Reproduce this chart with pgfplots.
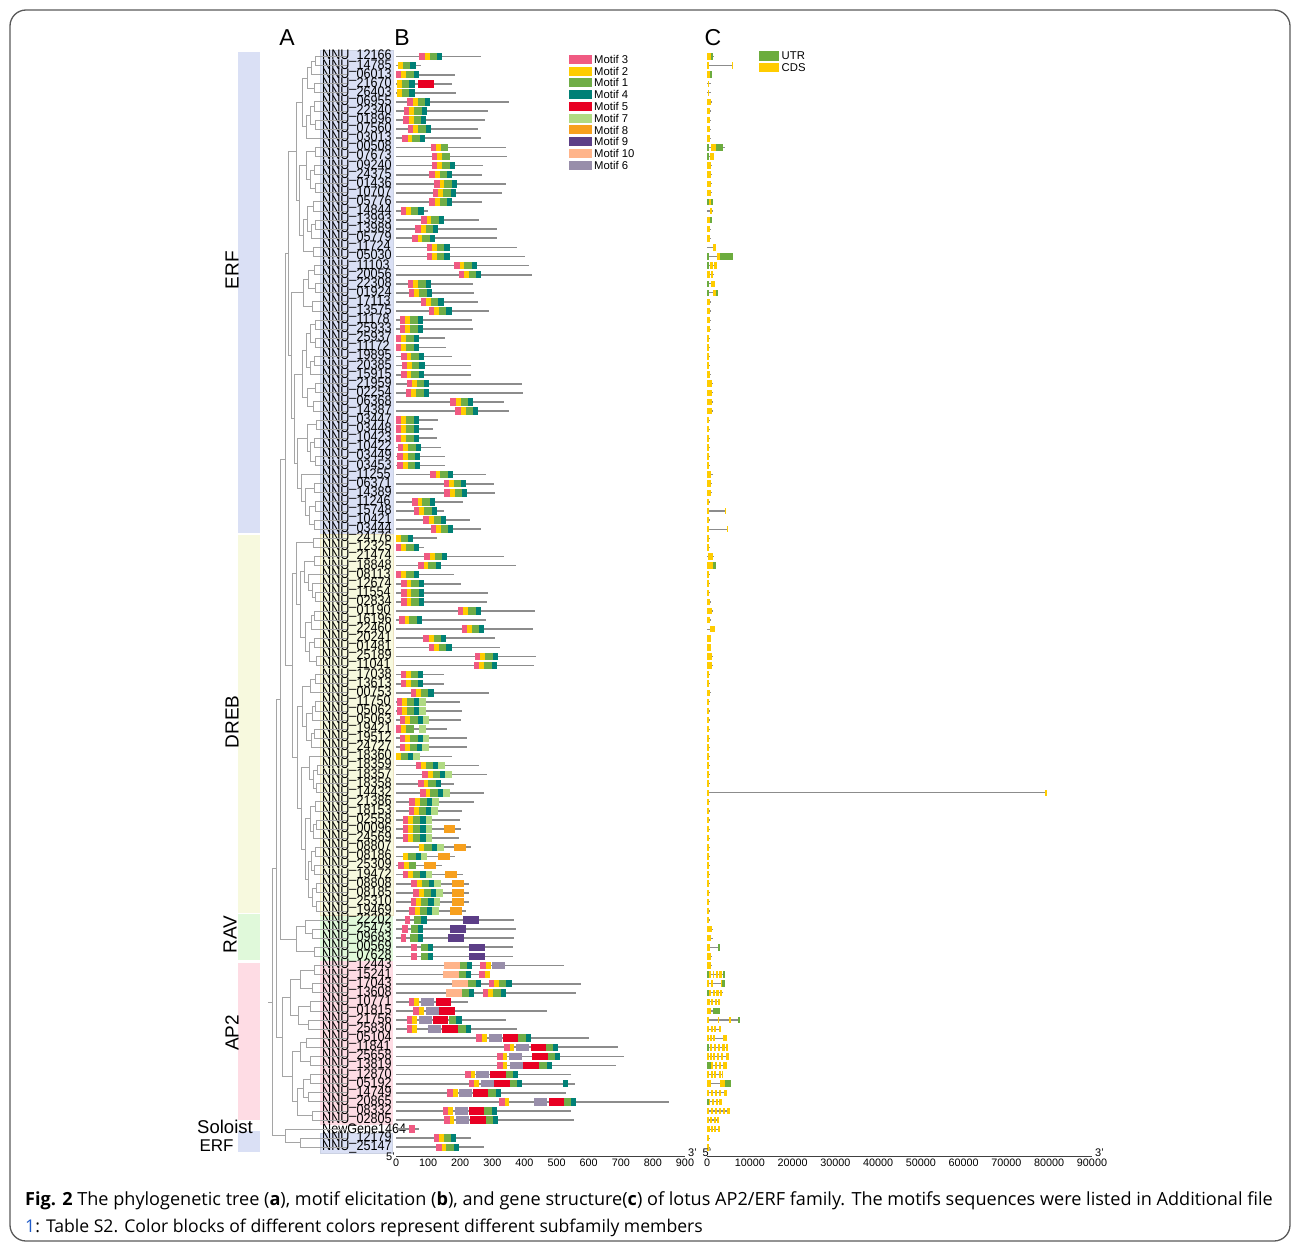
\documentclass[border=0pt]{standalone}
\usepackage{fontspec}
\setmainfont{Liberation Sans}
\newfontfamily\capfont{Open Sans}
\usepackage{pgfplots}
\usepackage{pgfplotstable}
\pgfplotsset{compat=1.18}

\definecolor{mthree}{RGB}{240,90,130}
\definecolor{mtwo}{RGB}{255,204,0}
\definecolor{mone}{RGB}{112,173,71}
\definecolor{mfour}{RGB}{0,128,118}
\definecolor{mfive}{RGB}{232,0,35}
\definecolor{mseven}{RGB}{176,218,130}
\definecolor{meight}{RGB}{247,160,30}
\definecolor{mnine}{RGB}{92,62,135}
\definecolor{mten}{RGB}{255,180,138}
\definecolor{msix}{RGB}{152,142,170}
\definecolor{cdscol}{RGB}{255,204,0}
\definecolor{utrcol}{RGB}{108,172,62}
\definecolor{glinecol}{RGB}{140,140,140}
\definecolor{treecol}{RGB}{165,165,165}
\definecolor{erfbg}{RGB}{218,224,245}
\definecolor{drebbg}{RGB}{247,249,222}
\definecolor{ravbg}{RGB}{224,249,218}
\definecolor{aptwobg}{RGB}{254,220,228}
\definecolor{linkblue}{RGB}{30,90,200}

\pgfplotsset{
  hseg/.style 2 args={draw=none, mark=none, error bars/x dir=both, error bars/x explicit,
    error bars/error mark=none, error bars/error bar style={line width=#1, draw=#2}},
  vseg/.style 2 args={draw=none, mark=none, error bars/y dir=both, error bars/y explicit,
    error bars/error mark=none, error bars/error bar style={line width=#1, draw=#2}},
  rows/.style={scale only axis, height=1108.98pt, ymin=-122, ymax=0, anchor=north west, clip=false},
}

% motif start positions (aa); widths: 3=17, 2=15, 1=23, 4=16, 5=48, 6=40, 7=21, 8=37, 9=50, 10=50
\pgfplotstableread{
r len m3 m2 m1 m4 m1b m4b m5 m6 m7 m8 m9 m10
1 265 73 90 105 128 nan nan nan nan nan nan nan nan
2 77 nan 7 22 45 nan nan nan nan nan nan nan nan
3 185 0 17 32 55 nan nan nan nan nan nan nan nan
4 175 nan 4 19 42 nan nan 69 nan nan nan nan nan
5 187 nan 4 19 42 nan nan nan nan nan nan nan nan
6 353 35 52 67 90 nan nan nan nan nan nan nan nan
7 285 25 42 57 80 nan nan nan nan nan nan nan nan
8 276 23 40 55 78 nan nan nan nan nan nan nan nan
9 255 37 54 69 92 nan nan nan nan nan nan nan nan
10 266 19 36 51 74 nan nan nan nan nan nan nan nan
11 344 108 125 140 nan nan nan nan nan nan nan nan nan
12 346 112 129 144 nan nan nan nan nan nan nan nan nan
13 272 112 129 144 167 nan nan nan nan nan nan nan nan
14 267 104 121 136 159 nan nan nan nan nan nan nan nan
15 341 119 136 151 174 nan nan nan nan nan nan nan nan
16 329 115 132 147 170 nan nan nan nan nan nan nan nan
17 268 104 121 136 159 nan nan nan nan nan nan nan nan
18 101 15 32 47 70 nan nan nan nan nan nan nan nan
19 257 78 95 110 133 nan nan nan nan nan nan nan nan
20 315 60 77 92 115 nan nan nan nan nan nan nan nan
21 316 50 67 82 105 nan nan nan nan nan nan nan nan
22 377 96 113 128 151 nan nan nan nan nan nan nan nan
23 403 96 113 128 151 nan nan nan nan nan nan nan nan
24 415 181 198 213 236 nan nan nan nan nan nan nan nan
25 425 195 212 227 250 nan nan nan nan nan nan nan nan
26 240 37 54 69 92 nan nan nan nan nan nan nan nan
27 242 40 57 72 95 nan nan nan nan nan nan nan nan
28 256 77 94 109 132 nan nan nan nan nan nan nan nan
29 291 102 119 134 157 nan nan nan nan nan nan nan nan
30 236 12 29 44 67 nan nan nan nan nan nan nan nan
31 241 12 29 44 67 nan nan nan nan nan nan nan nan
32 154 0 17 32 55 nan nan nan nan nan nan nan nan
33 156 0 17 32 55 nan nan nan nan nan nan nan nan
34 173 16 33 48 71 nan nan nan nan nan nan nan nan
35 234 18 35 50 73 nan nan nan nan nan nan nan nan
36 234 16 33 48 71 nan nan nan nan nan nan nan nan
37 392 33 50 65 88 nan nan nan nan nan nan nan nan
38 396 31 48 63 86 nan nan nan nan nan nan nan nan
39 337 169 186 201 224 nan nan nan nan nan nan nan nan
40 353 185 202 217 240 nan nan nan nan nan nan nan nan
41 132 0 17 32 55 nan nan nan nan nan nan nan nan
42 114 0 17 32 55 nan nan nan nan nan nan nan nan
43 128 0 17 32 55 nan nan nan nan nan nan nan nan
44 141 6 23 38 61 nan nan nan nan nan nan nan nan
45 152 4 21 36 59 nan nan nan nan nan nan nan nan
46 152 4 21 36 59 nan nan nan nan nan nan nan nan
47 279 106 123 138 161 nan nan nan nan nan nan nan nan
48 304 148 165 180 203 nan nan nan nan nan nan nan nan
49 309 151 168 183 206 nan nan nan nan nan nan nan nan
50 208 50 67 82 105 nan nan nan nan nan nan nan nan
51 150 56 73 88 111 nan nan nan nan nan nan nan nan
52 229 85 102 117 140 nan nan nan nan nan nan nan nan
53 264 108 125 140 163 nan nan nan nan nan nan nan nan
54 128 nan 0 15 38 nan nan nan nan nan nan nan nan
55 88 0 17 32 55 nan nan nan nan nan nan nan nan
56 335 88 105 120 143 nan nan nan nan nan nan nan nan
57 375 69 86 101 124 nan nan nan nan nan nan nan nan
58 181 0 17 32 55 nan nan nan nan nan nan nan nan
59 203 16 33 48 71 nan nan nan nan nan nan nan nan
60 286 16 33 48 71 nan nan nan nan nan nan nan nan
61 284 16 33 48 71 nan nan nan nan nan nan nan nan
62 434 193 210 225 248 nan nan nan nan nan nan nan nan
63 279 10 27 42 65 nan nan nan nan nan nan nan nan
64 427 204 221 236 259 nan nan nan nan nan nan nan nan
65 308 85 102 117 140 nan nan nan nan nan nan nan nan
66 325 102 119 134 157 nan nan nan nan nan nan nan nan
67 435 246 263 278 301 nan nan nan nan nan nan nan nan
68 431 243 260 275 298 nan nan nan nan nan nan nan nan
69 150 14 31 46 69 nan nan nan nan nan nan nan nan
70 151 14 31 46 69 nan nan nan nan nan nan nan nan
71 290 46 63 78 101 nan nan nan nan nan nan nan nan
72 198 2 19 34 57 nan nan nan nan 73 nan nan nan
73 206 2 19 34 57 nan nan nan nan 73 nan nan nan
74 203 12 29 44 67 nan nan nan nan 83 nan nan nan
75 160 0 17 32 nan nan nan nan nan 71 nan nan nan
76 221 12 29 44 67 nan nan nan nan 83 nan nan nan
77 220 11 28 43 66 nan nan nan nan 82 nan nan nan
78 175 nan 0 15 38 nan nan nan nan 54 nan nan nan
79 259 61 78 93 116 nan nan nan nan 132 nan nan nan
80 282 82 99 114 137 nan nan nan nan 153 nan nan nan
81 181 69 86 101 124 nan nan nan nan nan nan nan nan
82 275 75 92 107 130 nan nan nan nan 146 nan nan nan
83 242 42 59 74 97 nan nan nan nan 113 nan nan nan
84 205 39 56 71 94 nan nan nan nan 110 nan nan nan
85 198 21 38 53 76 nan nan nan nan 92 nan nan nan
86 202 21 38 53 76 nan nan nan nan 92 148 nan nan
87 197 21 38 53 76 nan nan nan nan 92 nan nan nan
88 233 nan 73 88 111 nan nan nan nan 127 181 nan nan
89 185 nan 23 38 61 nan nan nan nan 77 131 nan nan
90 144 7 24 39 nan nan nan nan nan nan 88 nan nan
91 208 21 38 53 76 nan nan nan nan 92 154 nan nan
92 227 48 65 80 103 nan nan nan nan 119 174 nan nan
93 227 54 71 86 109 nan nan nan nan 125 174 nan nan
94 227 46 63 78 101 nan nan nan nan 117 174 nan nan
95 219 42 59 74 97 nan nan nan nan 113 167 nan nan
96 367 27 nan 56 79 nan nan nan nan nan nan 210 nan
97 375 19 nan 46 69 nan nan nan nan nan nan 169 nan
98 369 15 nan 44 67 nan nan nan nan nan nan 163 nan
99 365 48 nan 77 100 nan nan nan nan nan nan 226 nan
100 365 48 nan 77 100 nan nan nan nan nan nan 226 nan
101 523 263 280 198 221 nan nan nan 298 nan nan nan 148
102 285 260 277 195 218 nan nan nan nan nan nan nan 145
103 575 289 306 225 248 321 344 nan nan nan nan nan 175
104 559 271 288 205 228 303 326 nan nan nan nan nan 155
105 224 39 56 nan nan nan nan 123 77 nan nan nan nan
106 469 54 71 nan nan nan nan 135 94 nan nan nan nan
107 342 33 50 165 188 nan nan 115 73 nan nan nan nan
108 377 33 50 194 217 nan nan 144 100 nan nan nan nan
109 600 250 267 381 404 nan nan 333 290 nan nan nan nan
110 690 337 354 467 490 nan nan 419 375 nan nan nan nan
111 710 315 332 473 496 nan nan 425 352 nan nan nan nan
112 684 315 332 446 469 nan nan 396 354 nan nan nan nan
113 544 215 232 342 365 nan nan 294 250 nan nan nan nan
114 556 227 244 354 377 nan 519 306 265 nan nan nan nan
115 530 160 177 288 311 nan nan 240 196 nan nan nan nan
116 849 321 338 523 546 nan nan 475 431 nan nan nan nan
117 544 146 163 275 298 nan nan 227 185 nan nan nan nan
118 554 150 167 279 302 nan nan 231 188 nan nan nan nan
119 73 42 nan nan nan nan nan nan nan nan nan nan nan
120 233 117 134 149 172 nan nan nan nan nan nan nan nan
121 274 125 142 157 180 nan nan nan nan nan nan nan nan
}\motifs

% gene structure (bp): gene span, CDS and UTR segments
\pgfplotstableread{
r s e
1 0 1600
2 0 6000
3 0 1100
4 0 900
5 0 900
6 0 1200
7 0 1000
8 0 1000
9 0 1000
10 0 1000
11 0 4200
12 0 1700
13 0 1150
14 0 1150
15 0 1150
16 0 1150
17 0 1400
18 0 1300
19 0 1200
20 0 1000
21 0 1000
22 0 2200
23 0 6100
24 0 2400
25 0 1600
26 0 1900
27 0 2600
28 0 1000
29 0 1000
30 0 1000
31 0 1000
32 0 700
33 0 700
34 0 700
35 0 700
36 0 900
37 0 1400
38 0 1400
39 0 1400
40 0 1400
41 0 600
42 0 600
43 0 600
44 0 600
45 0 600
46 0 600
47 0 1300
48 0 1150
49 0 1150
50 0 700
51 0 4400
52 0 600
53 0 4900
54 0 600
55 0 600
56 0 1700
57 0 2100
58 0 700
59 0 700
60 0 700
61 0 900
62 0 1300
63 0 900
64 0 1900
65 0 1000
66 0 1000
67 0 1300
68 0 1300
69 0 600
70 0 600
71 0 900
72 0 700
73 0 700
74 0 700
75 0 700
76 0 700
77 0 700
78 0 700
79 0 700
80 0 700
81 0 700
82 0 79300
83 0 700
84 0 700
85 0 700
86 0 700
87 0 700
88 0 700
89 0 700
90 0 700
91 0 700
92 0 700
93 0 700
94 0 700
95 0 700
96 0 700
97 0 1400
98 0 1500
99 0 3100
100 0 1100
101 0 1100
102 0 4300
103 0 4300
104 0 3800
105 0 3000
106 0 3060
107 0 7600
108 0 3200
109 0 4600
110 0 4780
111 0 5100
112 0 4600
113 0 3700
114 0 5600
115 0 4600
116 0 3400
117 0 5300
118 0 2900
119 0 2900
120 0 700
121 0 700
}\glines

\pgfplotstableread{
r s e
1 0 1000
2 0 400
2 5800 6000
3 0 700
4 150 450
5 150 450
6 0 1000
7 0 800
8 0 800
9 0 800
10 0 800
11 1000 2100
12 700 1600
13 0 1000
14 0 1000
15 0 1000
16 0 1000
17 250 900
18 700 1200
19 0 700
20 0 800
21 0 800
22 1300 2100
23 2270 3060
24 700 1300
24 1650 2300
25 0 800
25 1000 1500
26 1000 1800
27 1300 2000
28 0 800
29 0 800
30 0 800
31 0 800
32 0 500
33 0 500
34 0 500
35 0 500
36 0 700
37 0 1250
38 0 1250
39 0 1250
40 0 1250
41 100 400
42 100 400
43 100 400
44 100 400
45 100 400
46 100 400
47 0 850
48 0 1000
49 0 1000
50 0 550
51 0 550
51 4200 4350
52 0 400
53 0 550
53 4700 4850
54 100 400
55 100 400
56 200 1500
57 100 1400
58 0 550
59 0 550
60 0 550
61 0 700
62 0 1150
63 0 700
64 700 1800
65 0 850
66 0 850
67 0 1150
68 0 1150
69 100 400
70 100 400
71 0 700
72 0 550
73 0 550
74 0 550
75 0 550
76 0 550
77 0 550
78 0 550
79 0 550
80 0 550
81 0 550
82 0 550
82 79000 79400
83 0 550
84 0 550
85 0 550
86 0 550
87 0 550
88 0 550
89 0 550
90 0 550
91 0 550
92 0 550
93 0 550
94 0 550
95 0 550
96 0 550
97 0 1200
98 0 1000
99 0 800
100 0 900
101 0 900
102 450 900
102 1300 1700
102 2100 2500
102 2900 3500
103 0 550
103 1000 1300
103 3200 3500
104 400 900
104 1300 1800
104 2200 2700
104 3000 3600
105 0 600
105 900 1400
105 1800 2300
105 2500 3000
106 0 1000
107 0 300
107 2500 2700
107 5100 5700
108 0 500
108 900 1300
108 1700 2200
108 2700 3200
109 0 400
109 700 1100
109 1500 1800
109 3800 4600
110 800 1200
110 1700 2200
110 2600 3000
110 3600 4200
110 4400 4780
111 0 400
111 700 1000
111 1500 1900
111 2300 2800
111 3300 3800
111 4500 5100
112 1000 1400
112 1800 2300
112 2700 3200
112 3700 4600
113 0 500
113 900 1300
113 1700 2200
113 2700 3200
113 3400 3700
114 0 1000
114 3000 4200
115 0 500
115 1000 1400
115 1800 2300
115 2800 3300
115 3900 4600
116 300 700
116 1100 1500
116 2000 2500
116 2900 3400
117 0 500
117 900 1300
117 1800 2200
117 2800 3300
117 3800 4300
117 4700 5300
118 0 500
118 800 1200
118 1600 2100
118 2400 2900
119 0 600
119 900 1400
119 1700 2200
119 2500 2900
120 0 550
121 0 550
}\cdsparts

\pgfplotstableread{
r s e
1 1000 1500
3 700 1000
11 0 550
11 2100 3700
12 0 300
17 0 250
17 900 1300
19 700 1100
23 0 550
23 3060 6040
24 0 550
26 0 550
27 0 550
27 2000 2500
57 1400 2000
99 2600 3060
102 0 450
102 3700 4300
103 3530 4300
104 0 400
106 1330 3060
107 7130 7600
110 0 550
112 0 1000
114 4200 5600
116 0 300
}\utrparts

% tree: vertical joins (x, y1, y2), inner branches (y, x0, x1), leaf branches (row, x0)
\pgfplotstableread{
x a b
315 1 2
311 1.5 3
314 4 5
307 2.25 4.5
314 6 7
315 8 9
310 6.5 8.5
306 7.5 10
302 3.375 8.75
315 11 12
314 13 14
315 15 16
310 13.5 15.5
306 11.5 14.5
313 17 18
315 19 20
311 19.5 21
307 17.5 20.25
313 22 23
303 18.875 22.5
299 13 20.69
296 6.06 16.84
314 24 25
315 26 27
308 24.5 26.5
312 28 29
303 25.5 28.5
315 30 31
315 32 33
310 30.5 32.5
314 34 35
310 34.5 36
306 31.5 35.25
315 37 38
313 39 40
307 37.5 39.5
302 33.375 38.5
316 41 42
314 43 44
315 45 46
310 43.5 45.5
307 41.5 44.5
314 48 49
315 50 51
314 52 53
309 50.5 52.5
305 48.5 51.5
301 47 50
297 43 48.5
294 35.94 45.75
291 27 40.84
288 11.45 33.92
313 54 55
314 56 57
315 60 61
312 59 60.5
308 58 59.75
304 56.5 58.875
314 62 63
311 62.5 64
314 65 66
316 67 68
309 65.5 67.5
305 63.25 66.5
300 57.69 64.875
296 54.5 61.28
315 69 70
310 69.5 71
315 72 73
312 72.5 74
314 75 76
311 75.5 77
306 73.25 76.25
302 70.25 74.75
317 79 80
316 81 82
313 79.5 81.5
309 78 80.5
315 83 84
316 85 86
313 85.5 87
310 83.5 86.25
315 88 89
314 90 91
311 88.5 90.5
316 92 93
316 94 95
312 92.5 94.5
308 89.5 93.5
305 84.875 91.5
301 79.25 88.19
297 72.5 83.72
292 57.89 78.11
312 97 98
305 96 97.5
314 99 100
296 96.75 99.5
314 101 102
312 103 104
300 101.5 103.5
310 105 106
308 107 108
298 105.5 107.5
290 102.5 106.5
306 109 110
310 111 112
300 109.5 111.5
310 113 114
308 115 116
303 113.5 115.5
312 117 118
297 114.5 117.5
292 110.5 116
282 104.5 113.25
300 120 121
285 119 120.5
285 22.69 68
280 45.35 98.125
276 71.74 108.875
272 90.3 119.75
}\treev

\pgfplotstableread{
y a b
1.5 311 315
2.25 307 311
4.5 307 314
3.375 302 307
6.5 310 314
8.5 310 315
7.5 306 310
8.75 302 306
6.06 296 302
11.5 306 315
13.5 310 314
15.5 310 315
14.5 306 310
13 299 306
17.5 307 313
19.5 311 315
20.25 307 311
18.875 303 307
22.5 303 313
20.69 299 303
16.84 296 299
11.45 288 296
24.5 308 314
26.5 308 315
25.5 303 308
28.5 303 312
27 291 303
30.5 310 315
32.5 310 315
31.5 306 310
34.5 310 314
35.25 306 310
33.375 302 306
37.5 307 315
39.5 307 313
38.5 302 307
35.94 294 302
41.5 307 316
43.5 310 314
45.5 310 315
44.5 307 310
43 297 307
48.5 305 314
50.5 309 315
52.5 309 314
51.5 305 309
50 301 305
48.5 297 301
45.75 294 297
40.84 291 294
33.92 288 291
22.69 285 288
54.5 296 313
56.5 304 314
60.5 312 315
59.75 308 312
58.875 304 308
57.69 300 304
62.5 311 314
63.25 305 311
65.5 309 314
67.5 309 316
66.5 305 309
64.875 300 305
61.28 296 300
57.89 292 296
69.5 310 315
70.25 302 310
72.5 312 315
73.25 306 312
75.5 311 314
76.25 306 311
74.75 302 306
72.5 297 302
79.5 313 317
81.5 313 316
80.5 309 313
79.25 301 309
83.5 310 315
85.5 313 316
86.25 310 313
84.875 305 310
88.5 311 315
90.5 311 314
89.5 308 311
92.5 312 316
94.5 312 316
93.5 308 312
91.5 305 308
88.19 301 305
83.72 297 301
78.11 292 297
68 285 292
97.5 305 312
96.75 296 305
99.5 296 314
98.125 280 296
101.5 300 314
103.5 300 312
102.5 290 300
105.5 298 310
107.5 298 308
106.5 290 298
104.5 282 290
109.5 300 306
111.5 300 310
110.5 292 300
113.5 303 310
115.5 303 308
114.5 297 303
117.5 297 312
116 292 297
113.25 282 292
108.875 276 282
120.5 285 300
119.75 272 285
45.35 280 285
71.74 276 280
90.3 272 276
105.03 268 272
}\treeh

\pgfplotstableread{
r xp
1 315
2 315
3 311
4 314
5 314
6 314
7 314
8 315
9 315
10 306
11 315
12 315
13 314
14 314
15 315
16 315
17 313
18 313
19 315
20 315
21 311
22 313
23 313
24 314
25 314
26 315
27 315
28 312
29 312
30 315
31 315
32 315
33 315
34 314
35 314
36 310
37 315
38 315
39 313
40 313
41 316
42 316
43 314
44 314
45 315
46 315
47 301
48 314
49 314
50 315
51 315
52 314
53 314
54 313
55 313
56 314
57 314
58 308
59 312
60 315
61 315
62 314
63 314
64 311
65 314
66 314
67 316
68 316
69 315
70 315
71 310
72 315
73 315
74 312
75 314
76 314
77 311
78 309
79 317
80 317
81 316
82 316
83 315
84 315
85 316
86 316
87 313
88 315
89 315
90 314
91 314
92 316
93 316
94 316
95 316
96 305
97 312
98 312
99 314
100 314
101 314
102 314
103 312
104 312
105 310
106 310
107 308
108 308
109 306
110 306
111 310
112 310
113 310
114 310
115 308
116 308
117 312
118 312
119 285
120 300
121 300
}\leaves

\begin{document}
\begin{tikzpicture}[x=1pt,y=1pt]
\useasboundingbox (0,0) rectangle (1292,-1244);
\draw[line width=1.3pt, black!65, rounded corners=16pt] (10,-10) rectangle (1290,-1241);

% ---------- A (underlay): subfamily bands and name panels ----------
\begin{axis}[rows, at={(230pt,-47.41pt)}, width=91pt, xmin=230, xmax=321, hide axis]
\addplot[fill=erfbg, draw=none] coordinates {(238,-0.5) (260,-0.5) (260,-53.45) (238,-53.45)} -- cycle;
\addplot[fill=drebbg, draw=none] coordinates {(238,-53.65) (260,-53.65) (260,-95.2) (238,-95.2)} -- cycle;
\addplot[fill=ravbg, draw=none] coordinates {(238,-95.35) (260,-95.35) (260,-100.4) (238,-100.4)} -- cycle;
\addplot[fill=aptwobg, draw=none] coordinates {(238,-100.7) (260,-100.7) (260,-118.0) (238,-118.0)} -- cycle;
\addplot[fill=erfbg, draw=none] coordinates {(238,-119.2) (260,-119.2) (260,-121.5) (238,-121.5)} -- cycle;
\addplot[fill=erfbg, draw=erfbg!85!gray, line width=0.4pt] coordinates {(320,-0.3) (393,-0.3) (393,-53.5) (320,-53.5)} -- cycle;
\addplot[fill=drebbg, draw=drebbg!80!brown, line width=0.4pt] coordinates {(320,-53.5) (393,-53.5) (393,-95.5) (320,-95.5)} -- cycle;
\addplot[fill=ravbg, draw=none] coordinates {(320,-95.5) (393,-95.5) (393,-100.5) (320,-100.5)} -- cycle;
\addplot[fill=aptwobg, draw=none] coordinates {(320,-100.5) (393,-100.5) (393,-118.5) (320,-118.5)} -- cycle;
\addplot[fill=erfbg, draw=erfbg!85!gray, line width=0.4pt] coordinates {(320,-119.5) (392,-119.5) (392,-121.7) (320,-121.7)} -- cycle;
\end{axis}

% ---------- A: tree and gene names ----------
\begin{axis}[rows, at={(230pt,-47.41pt)}, width=91pt, xmin=230, xmax=321,
  axis line style={draw=none}, xtick=\empty, major tick length=0pt,
  ytick={-1,-2,...,-121}, yticklabel pos=right,
  yticklabel style={anchor=west, inner sep=0pt, xshift=1pt, yscale=1.1, font=\fontsize{12.6}{12.6}\selectfont},
  yticklabels={NNU\_12166,NNU\_14785,NNU\_06013,NNU\_21670,NNU\_26403,NNU\_06955,NNU\_22340,NNU\_01896,NNU\_07560,NNU\_03013,
  NNU\_00508,NNU\_07673,NNU\_09240,NNU\_24375,NNU\_01436,NNU\_10707,NNU\_05776,NNU\_14844,NNU\_13993,NNU\_13989,
  NNU\_05779,NNU\_11724,NNU\_05030,NNU\_11103,NNU\_20056,NNU\_22308,NNU\_01924,NNU\_17113,NNU\_13575,NNU\_11178,
  NNU\_25933,NNU\_25937,NNU\_11172,NNU\_19895,NNU\_20385,NNU\_15915,NNU\_21959,NNU\_02254,NNU\_06368,NNU\_14387,
  NNU\_03447,NNU\_03448,NNU\_10423,NNU\_10422,NNU\_03449,NNU\_03453,NNU\_11255,NNU\_06371,NNU\_14389,NNU\_11246,
  NNU\_15748,NNU\_10421,NNU\_03444,NNU\_24176,NNU\_12325,NNU\_21474,NNU\_18848,NNU\_08113,NNU\_12674,NNU\_11554,
  NNU\_02834,NNU\_01190,NNU\_16196,NNU\_22460,NNU\_20241,NNU\_01481,NNU\_25189,NNU\_11041,NNU\_17038,NNU\_13613,
  NNU\_00753,NNU\_11750,NNU\_05062,NNU\_05063,NNU\_19421,NNU\_19512,NNU\_24727,NNU\_18360,NNU\_18359,NNU\_18357,
  NNU\_18358,NNU\_14432,NNU\_21386,NNU\_18153,NNU\_02558,NNU\_00096,NNU\_24569,NNU\_08807,NNU\_08186,NNU\_25309,
  NNU\_19472,NNU\_08808,NNU\_08185,NNU\_25310,NNU\_19469,NNU\_22202,NNU\_25473,NNU\_09683,NNU\_00569,NNU\_07628,
  NNU\_12443,NNU\_15241,NNU\_17043,NNU\_13608,NNU\_10771,NNU\_01815,NNU\_21756,NNU\_25830,NNU\_05104,NNU\_11841,
  NNU\_25658,NNU\_13819,NNU\_12870,NNU\_05192,NNU\_14749,NNU\_20865,NNU\_08332,NNU\_02805,NewGene1464,NNU\_12179,NNU\_25147}]
\addplot[vseg={0.9pt}{treecol}] table[x=x, y expr={-(\thisrow{a}+\thisrow{b})/2}, y error expr={(\thisrow{b}-\thisrow{a})/2}]{\treev};
\addplot[hseg={0.9pt}{treecol}] table[x expr={(\thisrow{a}+\thisrow{b})/2}, y expr=-\thisrow{y}, x error expr={(\thisrow{b}-\thisrow{a})/2}]{\treeh};
\addplot[hseg={0.9pt}{treecol}] table[x expr={(\thisrow{xp}+347)/2}, y expr=-\thisrow{r}, x error expr={(347-\thisrow{xp})/2}]{\leaves};
\node[rotate=90, font=\fontsize{19}{19}\selectfont] at (axis cs:232,-24.5) {ERF};
\node[rotate=90, font=\fontsize{19}{19}\selectfont] at (axis cs:232,-74.2) {DREB};
\node[rotate=90, font=\fontsize{19}{19}\selectfont] at (axis cs:230,-97.6) {RAV};
\node[rotate=90, font=\fontsize{19}{19}\selectfont] at (axis cs:232,-108.4) {AP2};
\node[font=\fontsize{18.5}{18.5}\selectfont] at (axis cs:225,-118.75) {Soloist};
\node[font=\fontsize{17}{17}\selectfont] at (axis cs:216.5,-120.85) {ERF};
\end{axis}

% ---------- B: conserved motifs ----------
\begin{axis}[rows, at={(396pt,-47.41pt)}, width=289pt, xmin=0, xmax=900,
  axis x line*=bottom, axis y line=none, axis line style={black!75, line width=0.7pt},
  xtick={0,100,...,900}, major tick length=0pt,
  /pgf/number format/assume math mode=true,
  xticklabel style={font=\fontsize{10.8}{11}\selectfont, yshift=1pt}]
\addplot[hseg={1.7pt}{glinecol}] table[x expr=\thisrow{len}/2, y expr=-\thisrow{r}, x error expr=\thisrow{len}/2]{\motifs};
\addplot[hseg={7.5pt}{mthree}] table[x expr=\thisrow{m3}+8.5, y expr=-\thisrow{r}, x error expr=8.5]{\motifs};
\addplot[hseg={7.5pt}{mtwo}] table[x expr=\thisrow{m2}+7.5, y expr=-\thisrow{r}, x error expr=7.5]{\motifs};
\addplot[hseg={7.5pt}{mone}] table[x expr=\thisrow{m1}+11.5, y expr=-\thisrow{r}, x error expr=11.5]{\motifs};
\addplot[hseg={7.5pt}{mone}] table[x expr=\thisrow{m1b}+11.5, y expr=-\thisrow{r}, x error expr=11.5]{\motifs};
\addplot[hseg={7.5pt}{mfour}] table[x expr=\thisrow{m4}+8, y expr=-\thisrow{r}, x error expr=8]{\motifs};
\addplot[hseg={7.5pt}{mfour}] table[x expr=\thisrow{m4b}+8, y expr=-\thisrow{r}, x error expr=8]{\motifs};
\addplot[hseg={7.5pt}{mfive}] table[x expr=\thisrow{m5}+24, y expr=-\thisrow{r}, x error expr=24]{\motifs};
\addplot[hseg={7.5pt}{msix}] table[x expr=\thisrow{m6}+20, y expr=-\thisrow{r}, x error expr=20]{\motifs};
\addplot[hseg={7.5pt}{mseven}] table[x expr=\thisrow{m7}+10.5, y expr=-\thisrow{r}, x error expr=10.5]{\motifs};
\addplot[hseg={7.5pt}{meight}] table[x expr=\thisrow{m8}+18.5, y expr=-\thisrow{r}, x error expr=18.5]{\motifs};
\addplot[hseg={7.5pt}{mnine}] table[x expr=\thisrow{m9}+25, y expr=-\thisrow{r}, x error expr=25]{\motifs};
\addplot[hseg={7.5pt}{mten}] table[x expr=\thisrow{m10}+25, y expr=-\thisrow{r}, x error expr=25]{\motifs};
\node[anchor=south east, inner sep=0pt, xshift=-1pt, yshift=-4pt, font=\fontsize{11}{11}\selectfont] at (rel axis cs:0,0) {5'};
\node[anchor=south west, inner sep=0pt, xshift=3pt, font=\fontsize{11}{11}\selectfont] at (rel axis cs:1,0) {3'};
\end{axis}

% ---------- C: gene structure ----------
\begin{axis}[rows, at={(707pt,-47.41pt)}, width=385pt, xmin=0, xmax=90000,
  axis x line*=bottom, axis y line=none, axis line style={black!75, line width=0.7pt},
  xtick={0,10000,...,90000}, major tick length=0pt, scaled x ticks=false,
  /pgf/number format/assume math mode=true, /pgf/number format/1000 sep={},
  xticklabel style={font=\fontsize{10.8}{11}\selectfont, yshift=1pt}]
\addplot[hseg={1.2pt}{glinecol}] table[x expr={(\thisrow{s}+\thisrow{e})/2}, y expr=-\thisrow{r}, x error expr={(\thisrow{e}-\thisrow{s})/2}]{\glines};
\addplot[hseg={6.5pt}{cdscol}] table[x expr={(\thisrow{s}+\thisrow{e})/2}, y expr=-\thisrow{r}, x error expr={(\thisrow{e}-\thisrow{s})/2}]{\cdsparts};
\addplot[hseg={6.5pt}{utrcol}] table[x expr={(\thisrow{s}+\thisrow{e})/2}, y expr=-\thisrow{r}, x error expr={(\thisrow{e}-\thisrow{s})/2}]{\utrparts};
\node[anchor=south, inner sep=0pt, font=\fontsize{11}{11}\selectfont] at (rel axis cs:0,0) {5'};
\node[anchor=south west, inner sep=0pt, xshift=3pt, font=\fontsize{11}{11}\selectfont] at (rel axis cs:1,0) {3'};
\end{axis}

% panel letters
\node[font=\fontsize{23}{23}\selectfont] at (287,-38) {A};
\node[font=\fontsize{23}{23}\selectfont] at (402,-38) {B};
\node[font=\fontsize{23}{23}\selectfont] at (713,-38) {C};

% motif legend
\foreach \c/\t [count=\i from 0] in {mthree/Motif 3, mtwo/Motif 2, mone/Motif 1, mfour/Motif 4, mfive/Motif 5,
  mseven/Motif 7, meight/Motif 8, mnine/Motif 9, mten/Motif 10, msix/Motif 6}{
  \fill[\c] (569,{-54.8-11.78*\i}) rectangle (592,{-63.8-11.78*\i});
  \node[anchor=west, inner sep=0pt, font=\fontsize{11.3}{11.3}\selectfont] at (594,{-59.3-11.78*\i}) {\t};
}
% gene structure legend
\fill[utrcol] (759,-51.5) rectangle (779,-61);
\fill[cdscol] (759,-63) rectangle (779,-72.5);
\node[anchor=west, inner sep=0pt, font=\fontsize{11.3}{11.3}\selectfont] at (781.5,-55.8) {UTR};
\node[anchor=west, inner sep=0pt, font=\fontsize{11.3}{11.3}\selectfont] at (781.5,-67.2) {CDS};

% caption
\node[anchor=base west, inner sep=0pt, font=\capfont\fontsize{18.1}{21}\selectfont] at (25,-1205)
  {\textbf{Fig. 2} The phylogenetic tree (\textbf{a}), motif elicitation (\textbf{b}), and gene structure(\textbf{c}) of lotus AP2/ERF family. The motifs sequences were listed in Additional file};
\node[anchor=base west, inner sep=0pt, font=\capfont\fontsize{17.6}{21}\selectfont] at (25,-1232)
  {\textcolor{linkblue}{1}: Table S2. Color blocks of different colors represent different subfamily members};
\end{tikzpicture}
\end{document}
